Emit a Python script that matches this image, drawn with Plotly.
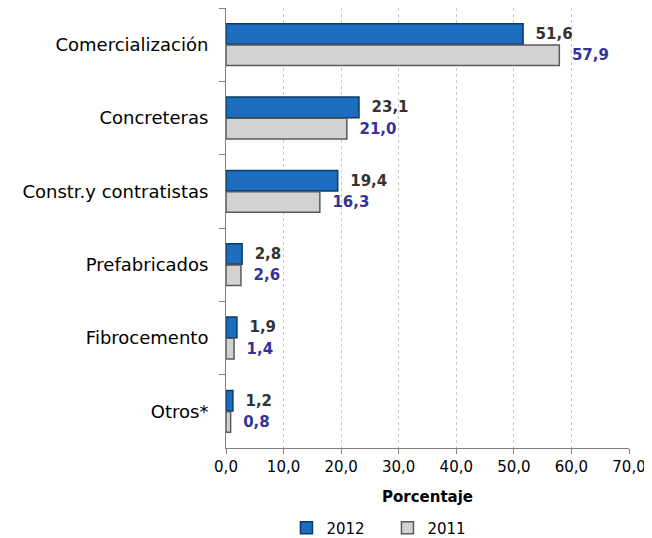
import plotly.graph_objects as go

categories = ["Comercialización", "Concreteras", "Constr.y contratistas", "Prefabricados", "Fibrocemento", "Otros*"]
values_2012 = [51.6, 23.1, 19.4, 2.8, 1.9, 1.2]
values_2011 = [57.9, 21.0, 16.3, 2.6, 1.4, 0.8]
x_ticks = [0, 10, 20, 30, 40, 50, 60, 70]

def fmt(v):
    return ("%.1f" % v).replace(".", ",")

FONT = "DejaVu Sans, Arial, sans-serif"

fig = go.Figure()
fig.add_trace(go.Bar(
    y=categories, x=values_2012, orientation="h", name="2012",
    marker=dict(color="#1c6dbf", line=dict(color="#0b3a66", width=1.5)),
    text=["  <b>" + fmt(v) + "</b>" for v in values_2012], textposition="outside",
    textfont=dict(family=FONT, size=15, color="#333333"),
    constraintext="none", cliponaxis=False,
))
fig.add_trace(go.Bar(
    y=categories, x=values_2011, orientation="h", name="2011",
    marker=dict(color="#d2d2d2", line=dict(color="#5a5a5a", width=1.5)),
    text=["  <b>" + fmt(v) + "</b>" for v in values_2011], textposition="outside",
    textfont=dict(family=FONT, size=15, color="#333399"),
    constraintext="none", cliponaxis=False,
))

fig.update_layout(
    width=644, height=530,
    margin=dict(l=218, r=23, t=0, b=90),
    barmode="group", bargap=0.42, bargroupgap=0.03,
    plot_bgcolor="white", paper_bgcolor="white",
    font=dict(family=FONT, size=15, color="#000000"),
    legend=dict(orientation="h", xref="paper", yref="container",
                x=0.15, xanchor="left", y=0.05, yanchor="top",
                entrywidth=56, font=dict(size=15, color="#000000"), traceorder="normal"),
    xaxis=dict(
        range=[0, 70], tickvals=x_ticks, ticktext=[fmt(t) for t in x_ticks],
        showgrid=True, gridcolor="#c8c8c8", griddash="dot", gridwidth=1,
        showline=True, linecolor="#808080", linewidth=1,
        ticks="outside", ticklen=5, tickcolor="#808080",
        tickfont=dict(size=15, color="#000000"),
        title=dict(text="<b>Porcentaje</b>", font=dict(size=15, color="#000000"), standoff=16),
        zeroline=False, automargin=False,
    ),
    yaxis=dict(
        autorange="reversed", showline=True, linecolor="#808080", linewidth=1,
        ticks="outside", ticklen=6, tickcolor="#808080", tickson="boundaries",
        tickfont=dict(size=18, color="#000000"), showgrid=False,
        ticklabelstandoff=13, automargin=False,
    ),
)

fig.write_html("out.html")
